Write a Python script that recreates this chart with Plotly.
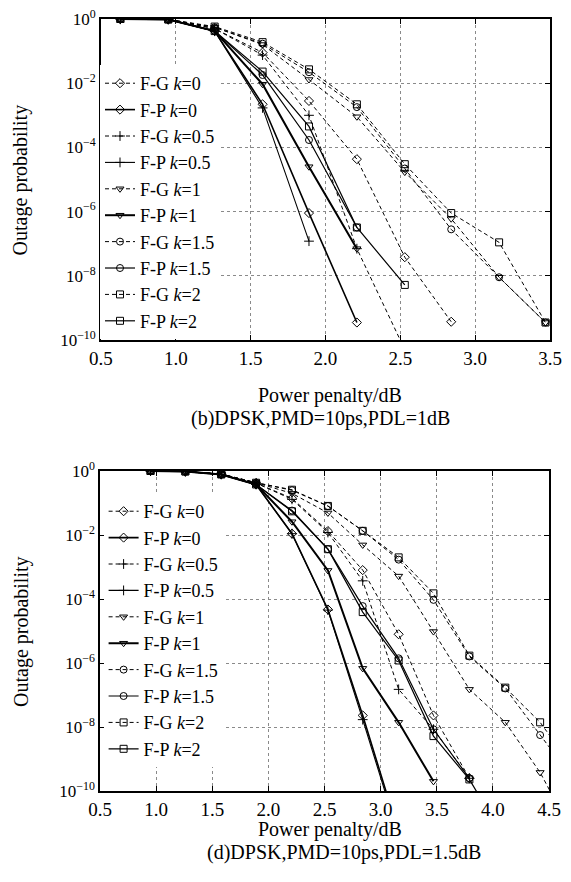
import plotly.graph_objects as go

# ---------------- data: (b) DPSK, PMD=10ps, PDL=1dB ----------------
x_b = [0.63, 0.95, 1.26, 1.58, 1.89, 2.21, 2.53, 2.84, 3.16, 3.47]
b_fg_k0 = [1, 0.97, 0.5, 0.09, 2.8e-3, 4.3e-5, 3.8e-8, 3.7e-10]
b_fp_k0 = [1, 0.97, 0.42, 2.2e-3, 9e-7, 3.5e-10]
b_fg_k05 = [1, 0.97, 0.5, 0.075, 1e-3, 7e-8, 5e-11]
b_fp_k05 = [1, 0.97, 0.42, 1.7e-3, 1.2e-7]
b_fg_k1 = [1, 0.97, 0.55, 0.16, 0.013, 9e-4, 1.7e-5, 6e-7, 9e-9, 3.5e-10]
b_fp_k1 = [1, 0.97, 0.42, 9.3e-3, 2.5e-5, 7e-8]
b_fg_k15 = [1, 0.97, 0.55, 0.17, 0.022, 1.8e-3, 2.2e-5, 2.8e-7, 9e-9, 3.5e-10]
b_fp_k15 = [1, 0.97, 0.42, 0.018, 1.7e-4, 3.2e-7]
b_fg_k2 = [1, 0.97, 0.58, 0.19, 0.027, 2.2e-3, 3e-5, 9e-7, 1.1e-7, 3.5e-10]
b_fp_k2 = [1, 0.97, 0.42, 0.023, 4.5e-4, 3.2e-7, 5.2e-9]

# ---------------- data: (d) DPSK, PMD=10ps, PDL=1.5dB ----------------
x_d = [0.95, 1.26, 1.58, 1.89, 2.21, 2.53, 2.84, 3.16, 3.47, 3.79, 4.11, 4.42, 4.74]
d_fg_k0 = [1, 0.97, 0.8, 0.42, 0.14, 0.0133, 8e-4, 7.9e-6, 2.3e-8, 2.5e-10]
d_fp_k0 = [1, 0.97, 0.78, 0.38, 0.011, 4.7e-5, 2.3e-8, 5e-12]
d_fg_k05 = [1, 0.97, 0.8, 0.42, 0.13, 0.012, 3.7e-4, 1.5e-7, 8.5e-9, 2.5e-10]
d_fp_k05 = [1, 0.97, 0.78, 0.38, 0.011, 4.5e-5, 1.7e-8, 4e-12]
d_fg_k1 = [1, 0.97, 0.8, 0.43, 0.2, 0.049, 4.9e-3, 5.2e-4, 9.6e-6, 1.5e-7, 1.4e-8, 3.8e-10, 3e-12]
d_fp_k1 = [1, 0.97, 0.78, 0.38, 0.026, 7.8e-4, 6.8e-7, 1.4e-8, 2e-10]
d_fg_k15 = [1, 0.97, 0.8, 0.43, 0.25, 0.08, 0.0135, 1.7e-3, 9.4e-5, 1.6e-6, 1.6e-7, 5.6e-9, 1.8e-10]
d_fp_k15 = [1, 0.97, 0.78, 0.38, 0.058, 3.6e-3, 6e-5, 1.4e-6, 8.5e-9, 2.5e-10]
d_fg_k2 = [1, 0.97, 0.8, 0.43, 0.26, 0.081, 0.0135, 2e-3, 1.5e-4, 1.7e-6, 1.7e-7, 1.4e-8, 4e-10]
d_fp_k2 = [1, 0.97, 0.78, 0.38, 0.055, 3.6e-3, 3.9e-5, 1.2e-6, 5.2e-9, 2.3e-10, 3e-12]

names = ["F-G <i>k</i>=0", "F-P <i>k</i>=0", "F-G <i>k</i>=0.5", "F-P <i>k</i>=0.5",
         "F-G <i>k</i>=1", "F-P <i>k</i>=1", "F-G <i>k</i>=1.5", "F-P <i>k</i>=1.5",
         "F-G <i>k</i>=2", "F-P <i>k</i>=2"]
symbols = ["diamond-open", "diamond-open", "cross-thin-open", "cross-thin-open",
           "triangle-down-open", "triangle-down-open", "circle-open", "circle-open",
           "square-open", "square-open"]
dashes = ["4px,3px", "solid"] * 5
widths = [1, 1.6, 1, 1.1, 1, 2.0, 1, 1.2, 1, 1.2]

y_ticks = [1e-10, 1e-8, 1e-6, 1e-4, 1e-2, 1]
y_text = ["10<sup>−10</sup>", "10<sup>−8</sup>", "10<sup>−6</sup>", "10<sup>−4</sup>",
          "10<sup>−2</sup>", "10<sup>0</sup>"]
x_ticks_b = [0.5, 1.0, 1.5, 2.0, 2.5, 3.0, 3.5]
x_ticks_d = [0.5, 1.0, 1.5, 2.0, 2.5, 3.0, 3.5, 4.0, 4.5]

series_b = [b_fg_k0, b_fp_k0, b_fg_k05, b_fp_k05, b_fg_k1, b_fp_k1, b_fg_k15, b_fp_k15, b_fg_k2, b_fp_k2]
series_d = [d_fg_k0, d_fp_k0, d_fg_k05, d_fp_k05, d_fg_k1, d_fp_k1, d_fg_k15, d_fp_k15, d_fg_k2, d_fp_k2]

FONT = "Liberation Serif"
fig = go.Figure()

for i, ys in enumerate(series_b):
    fig.add_trace(go.Scatter(
        x=x_b[:len(ys)], y=ys, name=names[i], mode="lines+markers",
        line=dict(color="black", width=widths[i], dash=dashes[i]),
        marker=dict(symbol=symbols[i], size=7, color="black", line=dict(width=1, color="black")),
        xaxis="x", yaxis="y", legend="legend", cliponaxis=True))

for i, ys in enumerate(series_d):
    fig.add_trace(go.Scatter(
        x=x_d[:len(ys)], y=ys, name=names[i], mode="lines+markers",
        line=dict(color="black", width=widths[i], dash=dashes[i]),
        marker=dict(symbol=symbols[i], size=7, color="black", line=dict(width=1, color="black")),
        xaxis="x2", yaxis="y2", legend="legend2", cliponaxis=True))

ax_common = dict(showline=True, linecolor="black", linewidth=1.5, mirror="ticks",
                 ticks="inside", ticklen=5, tickcolor="black",
                 showgrid=True, gridcolor="#8a8a8a", griddash="dot", gridwidth=1,
                 zeroline=False, automargin=False, ticklabeloverflow="allow")

# the page body adds an 8px offset, so margins are reduced by 8px on left/top
fig.update_layout(
    width=571, height=882,
    margin=dict(l=92, r=29, t=11, b=99),
    paper_bgcolor="white", plot_bgcolor="white",
    font=dict(family=FONT, color="black", size=20),
    xaxis=dict(domain=[0.002, 1.0], range=[0.5, 3.5], tickvals=x_ticks_b,
               ticktext=["%.1f" % v for v in x_ticks_b], tickfont=dict(size=19, family=FONT),
               anchor="y", **ax_common),
    yaxis=dict(domain=[0.5842, 1.0], type="log", range=[-10, 0], tickvals=y_ticks,
               ticktext=y_text, tickfont=dict(size=17, family=FONT), anchor="x", **ax_common),
    xaxis2=dict(domain=[0.0, 0.998], range=[0.5, 4.5], tickvals=x_ticks_d,
                ticktext=["%.1f" % v for v in x_ticks_d], tickfont=dict(size=19, family=FONT),
                anchor="y2", **ax_common),
    yaxis2=dict(domain=[0.0, 0.4145], type="log", range=[-10, 0], tickvals=y_ticks,
                ticktext=y_text, tickfont=dict(size=17, family=FONT), anchor="x2", **ax_common),
    legend=dict(x=0.0, y=0.9404, xanchor="left", yanchor="top", bgcolor="white",
                borderwidth=0, itemwidth=30, font=dict(size=18, family=FONT),
                tracegroupgap=0),
    legend2=dict(x=0.008, y=0.386, xanchor="left", yanchor="top", bgcolor="white",
                 borderwidth=0, itemwidth=30, font=dict(size=18, family=FONT),
                 tracegroupgap=0),
    annotations=[
        dict(text="Outage probability", x=-0.176, y=0.792, xref="paper", yref="paper",
             textangle=-90, showarrow=False, xanchor="center", yanchor="middle",
             font=dict(size=20, family=FONT)),
        dict(text="Outage probability", x=-0.176, y=0.207, xref="paper", yref="paper",
             textangle=-90, showarrow=False, xanchor="center", yanchor="middle",
             font=dict(size=20, family=FONT)),
        dict(text="Power penalty/dB", x=0.511, y=0.512, xref="paper", yref="paper",
             showarrow=False, xanchor="center", yanchor="middle", font=dict(size=20, family=FONT)),
        dict(text="(b)DPSK,PMD=10ps,PDL=1dB", x=0.491, y=0.483, xref="paper", yref="paper",
             showarrow=False, xanchor="center", yanchor="middle", font=dict(size=20, family=FONT)),
        dict(text="Power penalty/dB", x=0.511, y=-0.0505, xref="paper", yref="paper",
             showarrow=False, xanchor="center", yanchor="middle", font=dict(size=20, family=FONT)),
        dict(text="(d)DPSK,PMD=10ps,PDL=1.5dB", x=0.542, y=-0.0795, xref="paper", yref="paper",
             showarrow=False, xanchor="center", yanchor="middle", font=dict(size=20, family=FONT)),
    ],
)

fig.write_html("out.html")
